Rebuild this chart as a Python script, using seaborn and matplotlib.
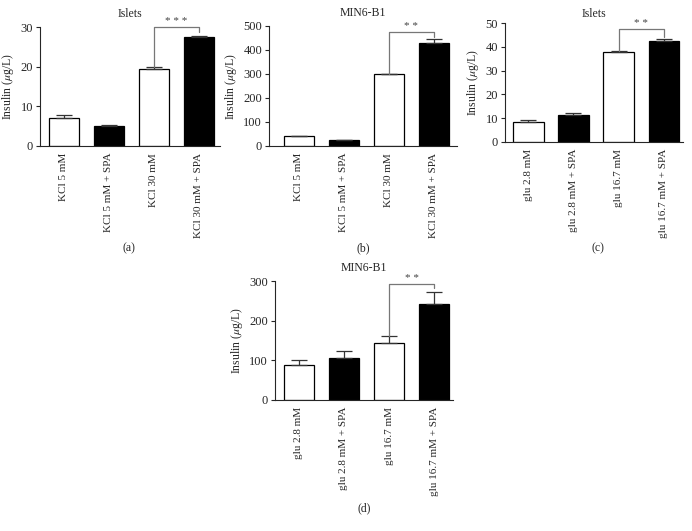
import matplotlib
matplotlib.use('Agg')
import matplotlib.pyplot as plt
import seaborn as sns
import pandas as pd

sns.set_style('ticks')
plt.rcParams['font.family'] = ['Liberation Serif', 'DejaVu Serif']
plt.rcParams['mathtext.fontset'] = 'stix'

# data
kcl_labels = ['KCl 5 mM', 'KCl 5 mM + SPA', 'KCl 30 mM', 'KCl 30 mM + SPA']
glu_labels = ['glu 2.8 mM', 'glu 2.8 mM + SPA', 'glu 16.7 mM', 'glu 16.7 mM + SPA']

a_vals = [7.0, 5.0, 19.3, 27.6]
a_err = [0.8, 0.2, 0.5, 0.2]
b_vals = [40, 25, 298, 430]
b_err = [3, 2, 3, 15]
c_vals = [8.3, 11.5, 37.8, 42.3]
c_err = [1.1, 0.7, 0.5, 0.9]
d_vals = [87, 105, 143, 242]
d_err = [13, 19, 19, 30]

bar_colors = ['white', 'black', 'white', 'black']


def draw_panel(rect, labels, vals, errs, ymax, ystep, xlim, title,
               bracket_y, right_leg, stars, tpad):
    fig = plt.gcf()
    ax = fig.add_axes(rect)
    df = pd.DataFrame({'cond': labels, 'val': vals})
    sns.barplot(data=df, x='cond', y='val', hue='cond', palette=bar_colors,
                edgecolor='black', linewidth=0.9, width=0.67, legend=False, ax=ax)
    ax.errorbar(range(4), vals, yerr=[[0] * 4, errs], fmt='none',
                ecolor='#333333', elinewidth=0.9, capsize=5.5, capthick=0.9)
    # significance bracket between bars 3 and 4
    top3 = vals[2] + errs[2]
    ax.plot([2, 2, 3, 3], [top3, bracket_y, bracket_y, right_leg],
            color='#777777', lw=0.9, clip_on=False)
    ax.text(2.5, bracket_y + ymax * 0.005, stars, ha='center', va='bottom',
            fontsize=8, color='#444444')
    ax.set_ylim(0, ymax)
    ax.set_xlim(*xlim)
    ax.set_yticks(range(0, ymax + 1, ystep))
    ax.tick_params(axis='y', labelsize=9, length=3, width=0.8, pad=2)
    ax.tick_params(axis='x', labelsize=8, length=0, rotation=90, pad=5)
    ax.set_xlabel('')
    ax.set_ylabel(r'Insulin ($\mu$g/L)', fontsize=8.5, labelpad=3)
    ax.set_title(title, fontsize=8.5, pad=tpad)
    for s in ['left', 'bottom']:
        ax.spines[s].set_linewidth(0.8)
    sns.despine(ax=ax)
    return ax


fig = plt.figure(figsize=(6.92, 5.31), dpi=100)
W, H = 692, 531


def rect(left, right, top, bottom):
    return [left / W, (H - bottom) / H, (right - left) / W, (bottom - top) / H]


draw_panel(rect(40, 220, 27, 146), kcl_labels, a_vals, a_err, 30, 10,
           (-0.53, 3.47), 'Islets', 30, 28.8, '* * *', 7)
draw_panel(rect(269, 457, 26, 146), kcl_labels, b_vals, b_err, 500, 100,
           (-0.66, 3.52), 'MIN6-B1', 475, 455, '* *', 7)
draw_panel(rect(505, 683, 23, 142), glu_labels, c_vals, c_err, 50, 10,
           (-0.52, 3.43), 'Islets', 47.5, 44, '* *', 4)
draw_panel(rect(275, 453, 281, 400), glu_labels, d_vals, d_err, 300, 100,
           (-0.53, 3.42), 'MIN6-B1', 293, 282, '* *', 7)

for x, y, t in [(129, 248, '(a)'), (363, 248, '(b)'), (598, 248, '(c)'), (364, 508, '(d)')]:
    fig.text(x / W, 1 - y / H, t, ha='center', va='center', fontsize=8.5)

fig.savefig('out.png', dpi=100)
